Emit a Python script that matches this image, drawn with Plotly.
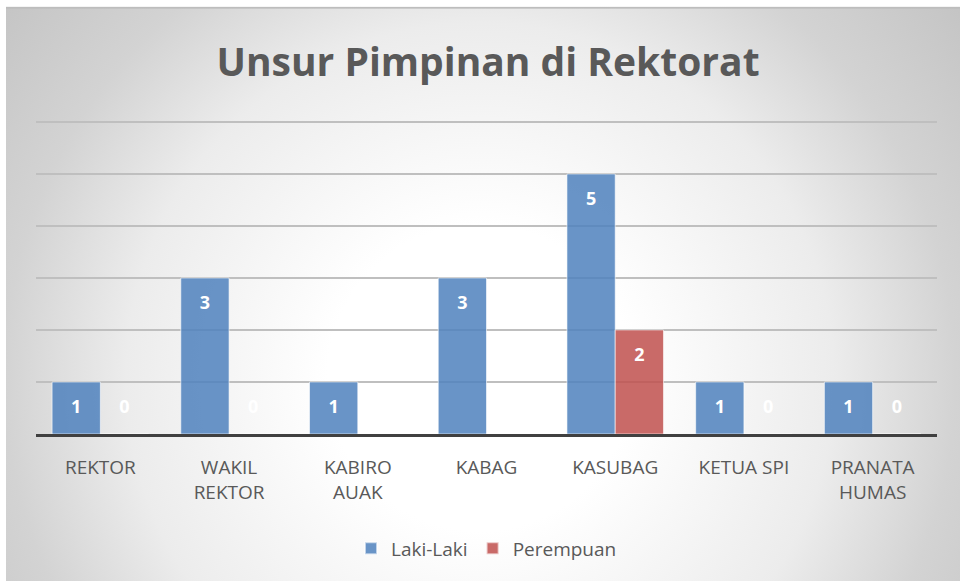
"""
Unsur Pimpinan di Rektorat - grouped bar chart (Laki-Laki vs Perempuan).
"""

import base64

import plotly.graph_objects as go

# ── DATA ──────────────────────────────────────────────────────────────────────

CATEGORIES = ["REKTOR", "WAKIL<br>REKTOR", "KABIRO<br>AUAK", "KABAG",
              "KASUBAG", "KETUA SPI", "PRANATA<br>HUMAS"]
LAKI       = [1, 3, 1, 3, 5, 1, 1]
PEREMPUAN  = [0, 0, None, None, 2, 0, 0]

# ── STYLE ─────────────────────────────────────────────────────────────────────

FONT       = "Open Sans"
TEXT_GREY  = "#595959"
BLUE       = "rgba(79,129,189,0.85)"
RED        = "rgba(192,80,77,0.85)"
BAR_W      = 0.375

W, H = 960, 581
M_L, M_R, M_T, M_B = 36, 23, 122, 147
FRAME_X0, FRAME_Y0 = 6, 8
Y_MAX = 6.02   # a hair above 6 so the top gridline is drawn

PLOT_W = W - M_L - M_R
PLOT_H = H - M_T - M_B
FRAME_W = W - FRAME_X0
FRAME_H = H - FRAME_Y0

# radial grey-to-white background, like the Excel chart area fill
svg = f"""<svg xmlns="http://www.w3.org/2000/svg" width="{FRAME_W}" height="{FRAME_H}"
 viewBox="0 0 {FRAME_W} {FRAME_H}" preserveAspectRatio="none">
<defs><radialGradient id="g" gradientUnits="userSpaceOnUse" cx="474" cy="370" r="610">
<stop offset="0" stop-color="#ffffff"/>
<stop offset="0.25" stop-color="#ffffff"/>
<stop offset="0.58" stop-color="#ececec"/>
<stop offset="0.78" stop-color="#d3d3d3"/>
<stop offset="1" stop-color="#c4c4c4"/>
</radialGradient></defs>
<rect width="100%" height="100%" fill="url(#g)"/>
<rect x="0" y="0" width="100%" height="2" fill="#bdbdbd"/>
</svg>"""
bg_src = "data:image/svg+xml;base64," + base64.b64encode(svg.encode()).decode()


def label_y(v):
    # Excel puts "inside end" labels half a unit below the bar top; zeros sit in the first unit
    return v - 0.5 if v > 0 else 0.5


# ── FIGURE ────────────────────────────────────────────────────────────────────

idx = list(range(len(CATEGORIES)))
x_laki = [i - BAR_W / 2 for i in idx]
x_per  = [i + BAR_W / 2 for i in idx]

fig = go.Figure()

fig.add_trace(go.Bar(
    x=x_laki, y=LAKI, width=BAR_W, name="Laki-Laki",
    marker=dict(color=BLUE, line=dict(color="rgba(255,255,255,0.6)", width=1)),
))
fig.add_trace(go.Bar(
    x=x_per, y=[v if v is not None else 0 for v in PEREMPUAN], width=BAR_W,
    name="Perempuan",
    marker=dict(color=RED, line=dict(color="rgba(255,255,255,0.6)", width=1)),
))

# data labels
fig.add_trace(go.Scatter(
    x=x_laki, y=[label_y(v) for v in LAKI], text=[str(v) for v in LAKI],
    mode="text", showlegend=False, hoverinfo="skip",
    textfont=dict(family=FONT, size=18, color="white", weight="bold"),
))
per_x = [x for x, v in zip(x_per, PEREMPUAN) if v is not None]
per_v = [v for v in PEREMPUAN if v is not None]
fig.add_trace(go.Scatter(
    x=per_x, y=[label_y(v) for v in per_v], text=[str(v) for v in per_v],
    mode="text", showlegend=False, hoverinfo="skip",
    textfont=dict(family=FONT, size=18, color="white", weight="bold"),
))

fig.add_layout_image(dict(
    source=bg_src, xref="paper", yref="paper",
    x=(FRAME_X0 - M_L) / PLOT_W, y=(H - M_B - FRAME_Y0) / PLOT_H,
    sizex=FRAME_W / PLOT_W, sizey=FRAME_H / PLOT_H,
    xanchor="left", yanchor="top", sizing="stretch", layer="below",
))

fig.update_layout(
    width=W, height=H,
    margin=dict(l=M_L, r=M_R, t=M_T - round(PLOT_H * (Y_MAX - 6) / 6), b=M_B),
    paper_bgcolor="white",
    plot_bgcolor="rgba(0,0,0,0)",
    font=dict(family=FONT, color=TEXT_GREY),
    title=dict(
        text="<b>Unsur Pimpinan di Rektorat</b>",
        x=(488 / W), xanchor="center",
        y=1 - 62 / H, yanchor="middle",
        font=dict(family=FONT, size=39, color=TEXT_GREY),
    ),
    barmode="overlay",
    showlegend=True,
    legend=dict(
        orientation="h", x=0.5, xanchor="center",
        y=-(548 - (H - M_B)) / PLOT_H, yanchor="middle",
        font=dict(family=FONT, size=19, color=TEXT_GREY),
        bgcolor="rgba(0,0,0,0)", itemsizing="constant", itemwidth=30,
    ),
    xaxis=dict(
        range=[-0.5, len(CATEGORIES) - 0.5],
        tickvals=idx, ticktext=CATEGORIES,
        tickfont=dict(family=FONT, size=19, color=TEXT_GREY),
        showgrid=False, zeroline=False,
        showline=True, linecolor="#404040", linewidth=3,
        ticks="", ticklabelstandoff=14,
    ),
    yaxis=dict(
        range=[0, Y_MAX], dtick=1,
        showticklabels=False, showgrid=True,
        gridcolor="#bfbfbf", gridwidth=1.5,
        zeroline=False, ticks="",
    ),
)

fig.write_html(
    "out.html",
    config={"displayModeBar": False},
    post_script="document.body.style.margin='0';",
)
